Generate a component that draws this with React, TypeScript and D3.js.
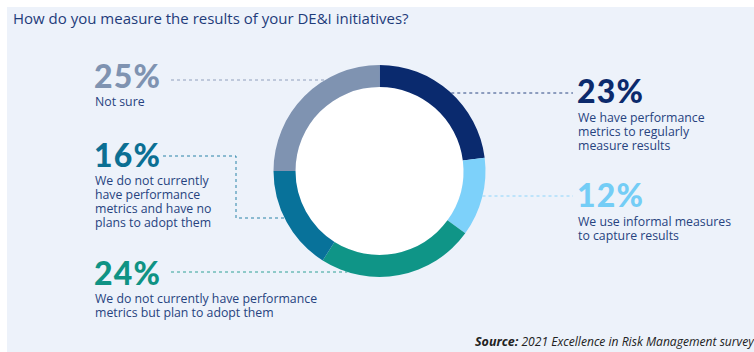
import React from "react";
import * as d3 from "d3";

const title = "How do you measure the results of your DE&I initiatives?";
const categories = [
  "We have performance metrics to regularly measure results",
  "We use informal measures to capture results",
  "We do not currently have performance metrics but plan to adopt them",
  "We do not currently have performance metrics and have no plans to adopt them",
  "Not sure",
];
const values = [23, 12, 24, 16, 25];
const labelLines = [
  ["We have performance", "metrics to regularly", "measure results"],
  ["We use informal measures", "to capture results"],
  ["We do not currently have performance", "metrics but plan to adopt them"],
  ["We do not currently", "have performance", "metrics and have no", "plans to adopt them"],
  ["Not sure"],
];
const colors = ["#0a2a6e", "#7dd1fa", "#0f9587", "#08729a", "#7f93b1"];
const pctColors = ["#0c2a6c", "#74cdf6", "#0f9384", "#0b6f93", "#7f93b1"];
const sourceBold = "Source:";
const sourceText = " 2021 Excellence in Risk Management survey";

const W = 754;
const H = 352;
const cx = 379.5;
const cy = 171;
const rOuter = 106;
const rInner = 84;

const layout = [
  { x: 578, pctY: 103, lineY0: 122, leadY: 93, side: "right" },
  { x: 578, pctY: 207, lineY0: 226, leadY: 196, side: "right" },
  { x: 95, pctY: 285, lineY0: 303, leadY: 272, side: "left" },
  { x: 95, pctY: 167, lineY0: 185, leadY: 156, side: "left", elbowX: 236, elbowY: 218 },
  { x: 95, pctY: 88, lineY0: 106, leadY: 80, side: "left" },
];

const edgeX = (y: number, side: string) => {
  const dy = y - cy;
  const dx = Math.sqrt(Math.max(0, rOuter * rOuter - dy * dy));
  return side === "right" ? cx + dx : cx - dx;
};

export default function App() {
  const pie = d3.pie<number>().sort(null).value((d) => d).startAngle(0).endAngle(2 * Math.PI);
  const arcs = pie(values);
  const arc = d3.arc<d3.PieArcDatum<number>>().innerRadius(rInner).outerRadius(rOuter);
  const textFont = "'Open Sans', 'Noto Sans', sans-serif";
  const pctFont = "Lato, 'Open Sans', sans-serif";

  return (
    <svg
      width={W}
      height={H}
      style={{ position: "absolute", left: 0, top: 0 }}
      xmlns="http://www.w3.org/2000/svg"
    >
      <rect x={0} y={0} width={W} height={H} fill="#ffffff" />
      <rect x={7} y={7} width={W - 7} height={H - 7} fill="#edf2fa" />
      <text x={13} y={24} fontFamily={textFont} fontSize={15} fill="#1f3c7a">
        {title}
      </text>

      {layout.map((l, i) => {
        let path: string;
        if (l.side === "right") {
          path = `M${edgeX(l.leadY, "right")},${l.leadY}H${l.x - 5}`;
        } else if (l.elbowX !== undefined) {
          path = `M${l.x + 68},${l.leadY}H${l.elbowX}V${l.elbowY}H${edgeX(l.elbowY!, "left")}`;
        } else {
          path = `M${l.x + 76},${l.leadY}H${edgeX(l.leadY, "left")}`;
        }
        return (
          <path
            key={"lead" + i}
            d={path}
            fill="none"
            stroke={colors[i]}
            strokeWidth={1}
            strokeDasharray="3,3"
            opacity={0.85}
          />
        );
      })}

      <g transform={`translate(${cx},${cy})`}>
        <circle r={rInner} fill="#ffffff" />
        {arcs.map((a, i) => (
          <path key={categories[i]} d={arc(a) || ""} fill={colors[i]} />
        ))}
      </g>

      {layout.map((l, i) => (
        <g key={"lab" + i}>
          <text
            x={l.x - 1}
            y={l.pctY}
            fontFamily={pctFont}
            fontWeight={900}
            fontSize={32}
            letterSpacing={1.2}
            fill={pctColors[i]}
          >
            {values[i]}%
          </text>
          {labelLines[i].map((t, j) => (
            <text
              key={j}
              x={l.x}
              y={l.lineY0 + j * 14}
              fontFamily={textFont}
              fontSize={12.3}
              fill="#27437f"
            >
              {t}
            </text>
          ))}
        </g>
      ))}

      <text x={475} y={346} fontFamily={textFont} fontSize={12.5} fontStyle="italic" fill="#222222">
        <tspan fontWeight={700}>{sourceBold}</tspan>
        <tspan fontSize={12.1}>{sourceText}</tspan>
      </text>
    </svg>
  );
}
